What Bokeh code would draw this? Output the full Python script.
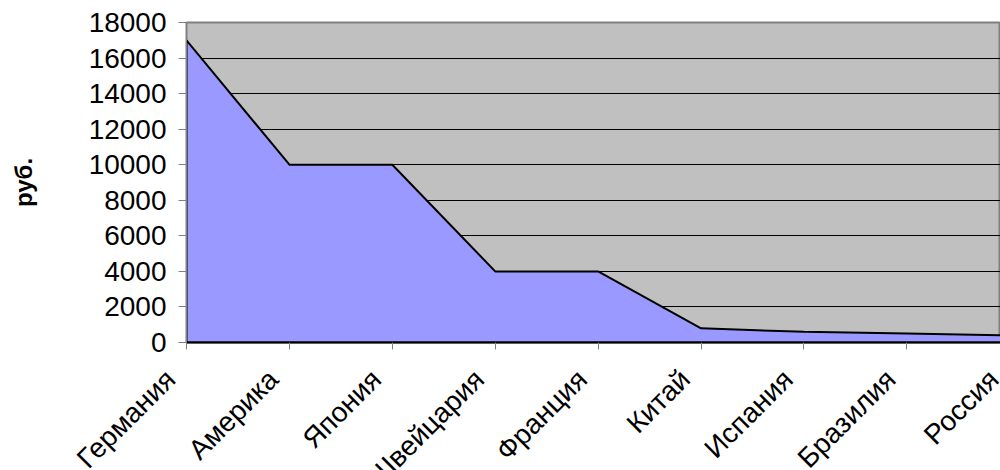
from bokeh.plotting import figure
from bokeh.models import Range1d, FixedTicker
from bokeh.core.properties import value
from bokeh.embed import file_html
from bokeh.resources import INLINE
import math

countries = ["Германия", "Америка", "Япония", "Швейцария", "Франция",
             "Китай", "Испания", "Бразилия", "Россия"]
prices = [17000, 10000, 10000, 4000, 4000, 800, 600, 500, 400]
y_ticks = list(range(0, 18001, 2000))

FONT = "Liberation Sans"

xs = list(range(len(countries)))

LEFT = 186          # width of the value-axis panel, px
PLOT_W = 814        # width of the plotting frame, px
X_END = 7.91        # last visible category position
px_per_unit = PLOT_W / X_END

p = figure(width=1000, height=362, output_backend="svg", toolbar_location=None,
           x_range=Range1d(0, X_END), y_range=Range1d(0, 18000),
           min_border_left=LEFT, min_border_right=0, min_border_top=22,
           min_border_bottom=20)

p.background_fill_color = "#C0C0C0"
p.border_fill_color = "white"
p.outline_line_color = "#808080"
p.outline_line_width = 2

# filled area under the price curve, outlined in black
p.patch([xs[0]] + xs + [xs[-1]], [0] + prices + [0],
        fill_color="#9999FF", line_color="black", line_width=2)

# horizontal grid
p.xgrid.visible = False
p.ygrid.grid_line_color = "black"
p.ygrid.grid_line_width = 1
p.ygrid.level = "underlay"

# value axis
p.yaxis.ticker = FixedTicker(ticks=y_ticks)
p.yaxis.axis_label = "руб."
p.yaxis.axis_label_text_font = FONT
p.yaxis.axis_label_text_font_style = "bold"
p.yaxis.axis_label_text_font_size = "24px"
p.yaxis.axis_label_text_color = "black"
p.yaxis.axis_label_standoff = 49
p.yaxis.major_label_text_font = FONT
p.yaxis.major_label_text_font_size = "28px"
p.yaxis.major_label_text_color = "black"
p.yaxis.major_label_standoff = 12
p.yaxis.axis_line_color = "#808080"
p.yaxis.major_tick_line_color = "#808080"
p.yaxis.major_tick_out = 8
p.yaxis.major_tick_in = 0
p.yaxis.minor_tick_line_color = None

# category axis: tick marks only, names go in the strip below
p.xaxis.ticker = FixedTicker(ticks=xs)
p.xaxis.major_label_overrides = {i: "" for i in xs}
p.xaxis.major_label_text_font_size = "0px"
p.xaxis.major_label_standoff = 0
p.xaxis.axis_line_color = "black"
p.xaxis.axis_line_width = 2
p.xaxis.major_tick_line_color = "#808080"
p.xaxis.major_tick_out = 7
p.xaxis.major_tick_in = 0
p.xaxis.minor_tick_line_color = None

# strip with slanted country names; its frame spans the full width, with the
# same px-per-category scale as the chart above
names = figure(width=1000, height=108, output_backend="svg", toolbar_location=None,
               x_range=Range1d(-LEFT / px_per_unit, X_END), y_range=Range1d(-1, 0),
               x_axis_type=None, y_axis_type=None,
               min_border_left=0, min_border_right=0, min_border_top=0,
               min_border_bottom=0)
names.outline_line_color = None
names.background_fill_color = "white"
names.border_fill_color = "white"
names.xgrid.visible = False
names.ygrid.visible = False
names.text(x=xs, y=[0] * len(xs), text=countries,
           angle=math.pi / 4, text_align="right", text_baseline="middle",
           x_offset=-16, y_offset=12,
           text_font=value(FONT), text_font_size="28px", text_color="black")

# two independent roots stacked on the page
open("out.html", "w").write(file_html([p, names], INLINE))
